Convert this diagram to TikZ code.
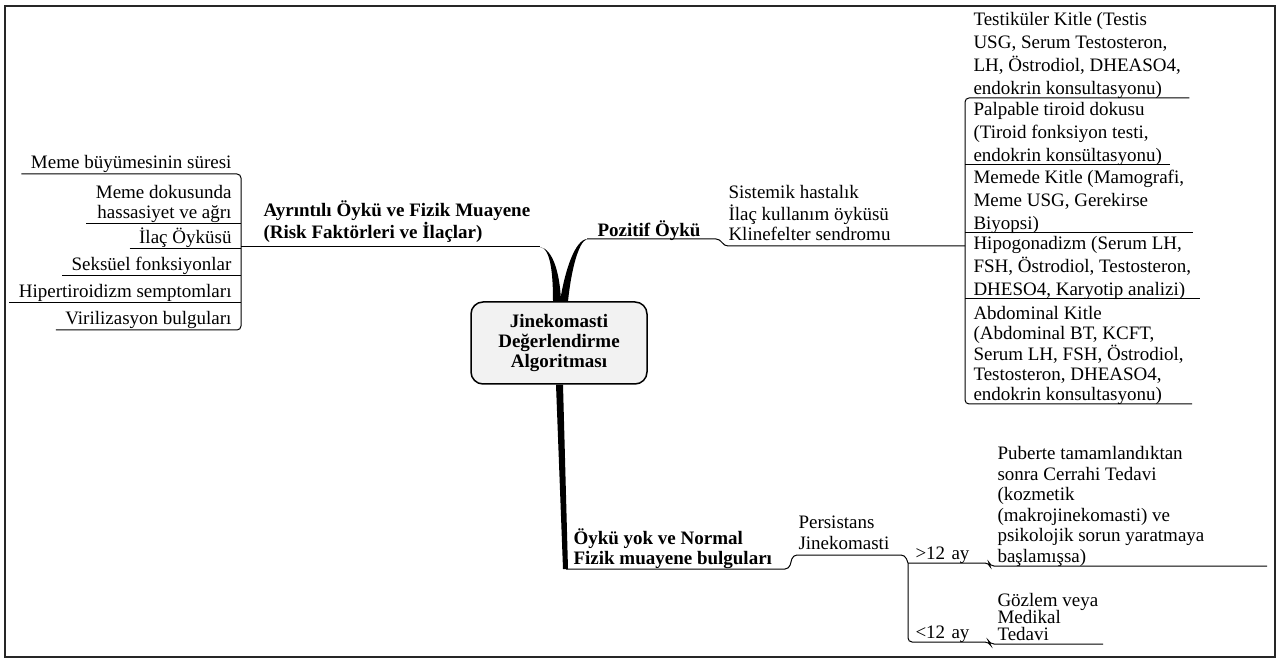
\documentclass[tikz,border=0pt]{standalone}
\usepackage{fontspec}
\setmainfont{Liberation Serif}
\usepackage{tikz}
\tikzset{every picture/.style={line width=0.5pt}}
\newcommand{\lstack}[1]{\begin{tabular}[b]{@{}l@{}}#1\end{tabular}}
\newcommand{\rstack}[1]{\begin{tabular}[b]{@{}r@{}}#1\end{tabular}}
\tikzset{
  leaf/.style={inner ysep=0pt, inner xsep=4pt, text depth=2.5pt, anchor=south west,
    font=\fontsize{9.5}{11}\selectfont},
  leftleaf/.style={leaf, anchor=south east, inner xsep=4.5pt, font=\fontsize{9.5}{10}\selectfont},
  boxleaf/.style={leaf, text depth=1.3pt, font=\fontsize{9.5}{11.5}\selectfont},
  branch/.style={leaf, text depth=4pt, font=\bfseries\fontsize{9.5}{10}\selectfont},
  root/.style={draw, fill=black!5, rounded corners=6pt, line width=0.75pt, align=center,
    minimum width=88pt, minimum height=41pt, font=\bfseries\fontsize{9.5}{10}\selectfont},
  wire/.style={rounded corners=2pt}
}

\begin{document}
\begin{tikzpicture}[x=0.5pt, y=-0.5pt]
\useasboundingbox (0,0) rectangle (1279,662);
\draw[line width=0.75pt, black!85] (5,6) rectangle (1275,657);

% merkez
\node[root] (root) at (559,343) {Jinekomasti\\Değerlendirme\\Algoritması};

% baglanti noktalari
\coordinate (lbus) at (241,247);
\coordinate (ltip) at (540,247);
\coordinate (rtip) at (587,239);
\coordinate (rstep) at (724,246);
\coordinate (rbus) at (965,246);
\coordinate (bend) at (566,569);
\coordinate (pstep) at (793,555);
\coordinate (pbus) at (908,563);

% kalin dallar
\fill (ltip) .. controls (551,248) and (553,276) .. ([xshift=-3pt]root.north)
  -- ([xshift=1pt]root.north) .. controls (560,274) and (553,249) .. (ltip);
\fill (rtip) .. controls (575,240) and (565,270) .. ([xshift=0.5pt]root.north)
  -- ([xshift=4.5pt]root.north) .. controls (571,272) and (578,242) .. (rtip);
\fill ([xshift=-1.5pt]root.south) -- ([xshift=2pt]root.south) -- (568,569) -- (563,569) -- cycle;

% sol dal
\node[branch, inner xsep=11pt] (ayrinti) at (lbus) {\lstack{Ayrıntılı Öykü ve Fizik Muayene\\(Risk Faktörleri ve İlaçlar)}};
\draw (lbus) -- (ltip);

\node[leftleaf] (meme1) at (241,174) {Meme büyümesinin süresi};
\node[leftleaf] (meme2) at (241,224) {\rstack{Meme dokusunda\\hassasiyet ve ağrı}};
\node[leftleaf] (ilac) at (241,249) {İlaç Öyküsü};
\node[leftleaf] (seks) at (241,276) {Seksüel fonksiyonlar};
\node[leftleaf] (hiper) at (241,303) {Hipertiroidizm semptomları};
\node[leftleaf] (viril) at (241,330) {Virilizasyon bulguları};
\draw[wire] (meme1.south west) -- (meme1.south east) -- (viril.south east) -- (viril.south west);
\foreach \n in {meme2, ilac, seks, hiper}
  \draw (\n.south west) -- (\n.south east);

% pozitif oyku
\node[branch, inner xsep=5pt, text depth=1pt] (pozitif) at (rtip) {Pozitif Öykü};
\node[leaf, inner xsep=2pt, font=\fontsize{9.5}{10}\selectfont] (sistemik) at (rstep)
  {\lstack{Sistemik hastalık\\İlaç kullanım öyküsü\\Klinefelter sendromu}};
\draw[wire] (rtip) -- ([xshift=-2pt]rstep |- rtip) -- (rstep) -- (rbus);

\node[boxleaf] (testis) at (965,98) {\lstack{Testiküler Kitle (Testis\\USG, Serum Testosteron,\\LH, Östrodiol, DHEASO4,\\endokrin konsultasyonu)}};
\node[boxleaf] (tiroid) at (965,165) {\lstack{Palpable tiroid dokusu\\(Tiroid fonksiyon testi,\\endokrin konsültasyonu)}};
\node[boxleaf] (kitle) at (965,233) {\lstack{Memede Kitle (Mamografi,\\Meme USG, Gerekirse\\Biyopsi)}};
\node[boxleaf] (hipogon) at (965,299) {\lstack{Hipogonadizm (Serum LH,\\FSH, Östrodiol, Testosteron,\\DHESO4, Karyotip analizi)}};
\node[boxleaf, font=\fontsize{9.5}{10}\selectfont] (abdom) at (965,404) {\lstack{Abdominal Kitle\\(Abdominal BT, KCFT,\\Serum LH, FSH, Östrodiol,\\Testosteron, DHEASO4,\\endokrin konsultasyonu)}};
\draw[wire] (testis.south east) -- (testis.south west) -- (abdom.south west) -- (abdom.south east);
\foreach \n in {tiroid, kitle, hipogon}
  \draw (\n.south west) -- (\n.south east);

% oyku yok
\node[branch, inner xsep=3.5pt, text depth=2pt] (oykuyok) at (bend) {\lstack{Öykü yok ve Normal\\Fizik muayene bulguları}};
\node[leaf, inner xsep=2.5pt, font=\fontsize{9.5}{10.5}\selectfont] (persis) at (pstep) {\lstack{Persistans\\Jinekomasti}};
\draw[wire] (bend) -- ++(223,0) -- (pstep) -- ++(112,0) -- (pbus);

\node[leaf, inner xsep=3.5pt, text width=33pt, text depth=1.5pt] (gt12) at (pbus) {>12 ay};
\node[leaf, inner xsep=3.5pt, text depth=1.5pt, font=\fontsize{9.5}{10.3}\selectfont] (puberte) at (990,566)
  {\lstack{Puberte tamamlandıktan\\sonra Cerrahi Tedavi\\(kozmetik\\(makrojinekomasti) ve\\psikolojik sorun yaratmaya\\başlamışsa)}};
\node[leaf, inner xsep=3.5pt, text width=33pt, text depth=1.5pt] (lt12) at (908,642) {<12 ay};
\node[leaf, inner xsep=3.5pt, text depth=1.5pt, font=\fontsize{9.5}{9}\selectfont] (gozlem) at (990,644) {\lstack{Gözlem veya\\[-0.8pt]Medikal\\[-0.8pt]Tedavi}};
\draw[wire] (pbus) -- (gt12.south east) -- (puberte.south west) -- (1267,566);
\draw[wire] (pbus) -- (lt12.south west) -- (lt12.south east) -- (gozlem.south west) -- (1103,644);
\end{tikzpicture}
\end{document}
